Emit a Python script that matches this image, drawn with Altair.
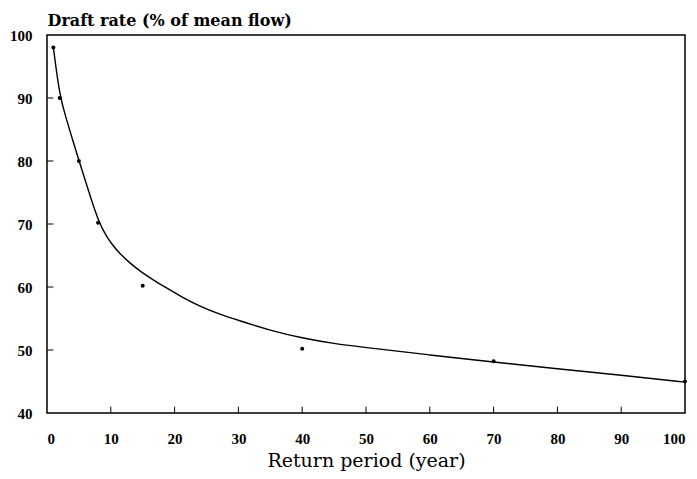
import altair as alt
import pandas as pd

# Observed points
ret_period = [1, 2, 5, 8, 15, 40, 70, 100]
draft_rate = [98, 90, 80, 70.2, 60.2, 50.2, 48.2, 45]

# Fitted curve
curve_x = [1, 2, 3, 4, 5, 6, 7, 8, 9, 10, 11.4, 13, 14.6, 17, 18.8, 21, 24, 27, 30, 35, 40, 45, 50, 60, 70, 80, 90, 100]
curve_y = [98, 90.2, 86.8, 83.4, 80.1, 76.9, 73.7, 70.7, 68.6, 67.0, 65.3, 63.8, 62.5, 60.9, 59.8, 58.5, 56.9, 55.7, 54.7, 53.1, 51.9, 51.0, 50.4, 49.2, 48.1, 47.0, 46.0, 44.9]

x_ticks = [0, 10, 20, 30, 40, 50, 60, 70, 80, 90, 100]
y_ticks = [40, 50, 60, 70, 80, 90, 100]
x_inner_ticks = [10, 20, 30, 40, 50, 60, 70, 80, 90]
y_inner_ticks = [50, 60, 70, 80, 90]

pts = pd.DataFrame({"x": ret_period, "y": draft_rate})
crv = pd.DataFrame({"x": curve_x, "y": curve_y})
xt = pd.DataFrame({"x": x_inner_ticks})
yt = pd.DataFrame({"y": y_inner_ticks})

LBL = "Liberation Serif"

xscale = alt.Scale(domain=[0, 100], nice=False, zero=False)
yscale = alt.Scale(domain=[40, 100], nice=False, zero=False)

xaxis = alt.Axis(values=x_ticks, title="Return period (year)", grid=False, domain=False,
                 ticks=False, tickSize=0, labelPadding=18, labelFont=LBL, labelFontSize=15,
                 labelFontWeight="bold", labelColor="black", titleFont="DejaVu Serif",
                 titleFontSize=19, titleFontWeight="normal", titleColor="black",
                 titleBaseline="alphabetic", titleY=53)
yaxis = alt.Axis(values=y_ticks, title="Draft rate (% of mean flow)", grid=False, domain=False,
                 ticks=False, tickSize=0, labelPadding=15, labelFont=LBL, labelFontSize=15,
                 labelFontWeight="bold", labelColor="black",
                 titleFont="DejaVu Serif", titleFontSize=16, titleFontWeight="bold",
                 titleColor="black", titleAngle=0, titleAlign="left",
                 titleBaseline="alphabetic", titleX=0, titleY=-10)

line = alt.Chart(crv).mark_line(color="black", strokeWidth=1.4, interpolate="basis").encode(
    x=alt.X("x:Q", scale=xscale, axis=xaxis),
    y=alt.Y("y:Q", scale=yscale, axis=yaxis),
)

dots = alt.Chart(pts).mark_point(filled=True, color="black", size=16, opacity=1).encode(
    x=alt.X("x:Q", scale=xscale),
    y=alt.Y("y:Q", scale=yscale),
)

xtk = alt.Chart(xt).mark_rule(color="black", strokeWidth=1).encode(
    x=alt.X("x:Q", scale=xscale),
    y=alt.datum(40),
    y2=alt.datum(41),
)

ytk = alt.Chart(yt).mark_rule(color="black", strokeWidth=1).encode(
    y=alt.Y("y:Q", scale=yscale),
    x=alt.datum(0),
    x2=alt.datum(1),
)

chart = alt.layer(line, dots, xtk, ytk).properties(
    width=638,
    height=378,
    background="white",
    autosize=alt.AutoSizeParams(type="none"),
    padding={"left": 39, "top": 27, "right": 4, "bottom": 58},
).configure_view(stroke="black", strokeWidth=1.5)

chart.save("out.html", embed_options={"renderer": "svg", "actions": False})
